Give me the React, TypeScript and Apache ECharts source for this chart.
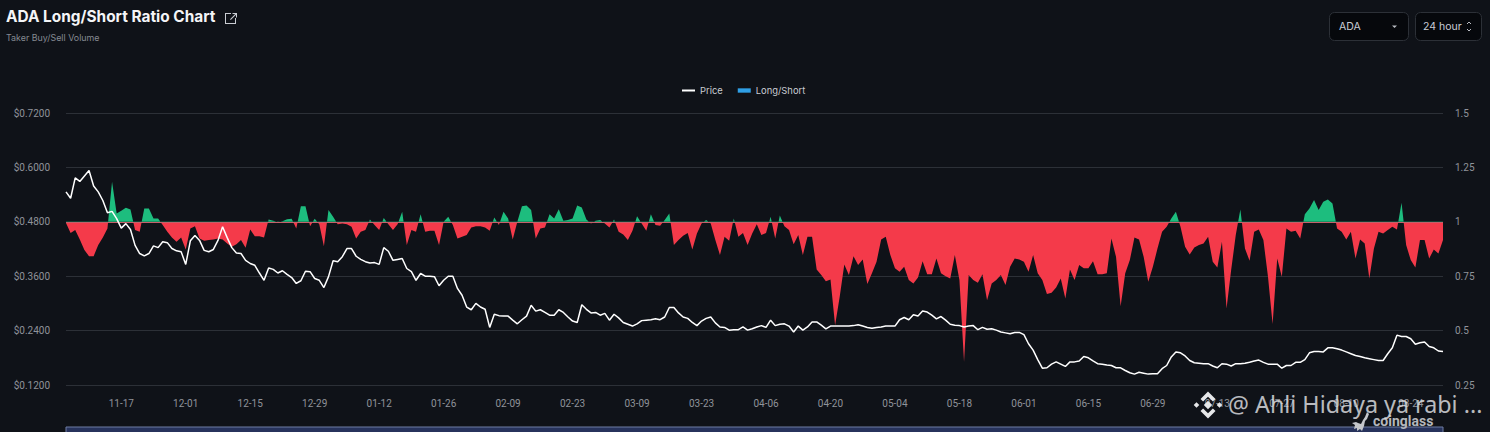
import React, { useEffect, useRef } from "react";
import * as echarts from "echarts";

const tickLabels = ["11-17","12-01","12-15","12-29","01-12","01-26","02-09","02-23","03-09","03-23","04-06","04-20","05-04","05-18","06-01","06-15","06-29","07-13","07-27","08-10","08-24"];
const priceTicks = [0.12,0.24,0.36,0.48,0.6,0.72];

const price = [
.546,.532,.577,.569,.581,.593,.559,.546,.527,.500,.503,.487,.466,.476,.463,.428,.410,.405,.410,.427,
.423,.436,.434,.421,.416,.414,.386,.438,.450,.439,.417,.414,.419,.439,.469,.445,.423,.411,.410,.395,
.388,.384,.367,.351,.378,.375,.367,.372,.364,.357,.344,.350,.371,.370,.355,.351,.335,.359,.394,.392,
.403,.421,.421,.404,.397,.392,.389,.390,.386,.423,.415,.395,.397,.399,.377,.370,.351,.366,.360,.360,
.359,.339,.351,.360,.360,.333,.318,.292,.286,.300,.292,.287,.247,.276,.273,.272,.272,.263,.255,.264,
.272,.296,.283,.286,.280,.274,.274,.286,.280,.270,.261,.258,.297,.287,.279,.280,.274,.278,.263,.276,
.268,.258,.254,.250,.255,.262,.263,.264,.266,.264,.270,.291,.291,.279,.270,.267,.258,.251,.261,.267,
.270,.257,.248,.247,.241,.242,.242,.248,.241,.244,.248,.251,.247,.263,.251,.254,.255,.250,.237,.250,
.241,.248,.259,.259,.252,.244,.250,.250,.250,.250,.250,.251,.253,.250,.247,.245,.247,.248,.250,.250,
.250,.264,.269,.264,.275,.272,.283,.281,.274,.266,.271,.263,.254,.252,.251,.248,.250,.251,.242,.247,
.243,.244,.241,.237,.235,.233,.236,.236,.231,.211,.197,.176,.157,.158,.166,.171,.166,.161,.171,.171,
.173,.183,.180,.173,.167,.166,.164,.163,.158,.158,.152,.147,.144,.148,.146,.144,.145,.145,.156,.163,
.182,.193,.191,.184,.174,.169,.168,.167,.167,.162,.158,.167,.166,.162,.167,.167,.168,.170,.173,.175,
.170,.166,.166,.166,.157,.163,.163,.170,.170,.176,.191,.194,.194,.193,.202,.202,.200,.197,.193,.189,
.185,.183,.180,.178,.176,.174,.174,.189,.202,.230,.227,.227,.222,.210,.213,.215,.205,.202,.195,.194];

const longShort = [
.995,.949,.962,.919,.870,.842,.842,.893,.928,.969,1.184,1.038,1.051,1.064,1.057,.962,.954,1.061,1.061,1.015,
1.015,.985,.954,.928,.908,.928,.873,.969,.980,.923,.913,.916,.919,.923,.919,.900,.885,.897,.916,.881,
.965,.934,.934,.928,1.011,1.005,.998,1.002,1.012,1.014,.969,1.072,1.072,.980,1.014,.989,.888,1.054,1.023,.989,
.992,.989,.977,.923,.954,.962,1.011,.985,.962,1.018,.989,.962,.989,1.046,.893,.962,.954,1.035,.954,.959,
.959,.893,1.0,1.023,.985,.923,.931,.939,.974,.980,.980,.974,.959,1.02,.985,1.046,1.015,.919,1.0,1.072,
1.075,1.054,.923,.969,.974,1.035,1.015,1.058,1.005,1.008,1.015,1.075,1.066,1.011,.992,1.005,1.008,.992,.974,1.011,
.954,.942,.916,.959,1.026,.992,.959,1.035,.985,.982,1.008,1.038,.893,.916,.936,.949,.873,.946,.992,1.008,
.992,.916,.847,.931,.913,1.015,.931,.949,.893,.946,.989,.939,.949,1.023,.923,1.029,.980,.962,.897,.939,
.847,.931,.931,.781,.755,.727,.735,.525,.655,.804,.755,.842,.801,.827,.714,.763,.816,.919,.931,.847,
.786,.770,.793,.732,.717,.744,.819,.759,.759,.831,.763,.750,.740,.847,.732,.357,.755,.732,.720,.759,
.640,.717,.732,.755,.709,.793,.831,.827,.816,.770,.847,.763,.732,.668,.674,.698,.740,.648,.781,.732,
.801,.786,.786,.819,.759,.759,.763,.923,.839,.612,.763,.824,.928,.919,.839,.724,.793,.877,.954,.977,
1.015,1.046,.977,.885,.850,.882,.893,.900,.931,.816,.790,.908,.602,.778,.939,1.057,.877,.821,.954,.965,
.916,.747,.530,.831,.747,.969,.954,.959,.923,1.035,1.061,1.100,1.054,1.092,1.103,1.084,.969,.954,.919,.954,
.831,.919,.900,.740,.877,.954,.946,.962,.977,.965,1.087,.893,.824,.790,.916,.916,.831,.873,.854,.916];

const categories: string[] = [];
for (let i = 0; i < 300; i++) {
  const d = new Date(Date.UTC(2024, 10, 5 + i));
  categories.push(String(d.getUTCMonth() + 1).padStart(2, "0") + "-" + String(d.getUTCDate()).padStart(2, "0"));
}

echarts.graphic.registerShape("bnbLogo", echarts.graphic.extendPath(
  "M0 -4.2L4.2 0L0 4.2L-4.2 0ZM-11.5 -2.8L-8.7 0L-11.5 2.8L-14.3 0ZM11.5 -2.8L14.3 0L11.5 2.8L8.7 0ZM0 -13.5L7.5 -6L4.9 -3.4L0 -8.3L-4.9 -3.4L-7.5 -6ZM0 13.5L-7.5 6L-4.9 3.4L0 8.3L4.9 3.4L7.5 6Z", {}));
echarts.graphic.registerShape("extLink", echarts.graphic.extendPath(
  "M6 1H0V12H11V6H10V11H1V2H6ZM5 7.2L5.8 8L11 2.8V5.5H12V1H7.5V2H10.2Z", {}));
echarts.graphic.registerShape("birdLogo", echarts.graphic.extendPath(
  "M15 0L13 5L11 8L9 12L6 11L4 10L0 11L3 13L2 17L5 16L5 19L8 17L10 19L12 14L13 9L15 7L17 2Z", {}));

const uiFont = "Inter, Roboto, sans-serif";
const GREEN = "#1dbd7e";
const RED = "#f43a4a";
// The ratio of 1 sits 0.4 of the way down the 1.5..0.25 axis.
const splitAt = (1.5 - 1) / (1.5 - 0.25);
const splitFill = {
  type: "linear", x: 0, y: 113, x2: 0, y2: 385, global: true,
  colorStops: [
    { offset: 0, color: GREEN }, { offset: splitAt, color: GREEN },
    { offset: splitAt, color: RED }, { offset: 1, color: RED },
  ],
};

export default function App() {
  const ref = useRef<HTMLDivElement>(null);
  useEffect(() => {
    document.body.style.margin = "0";
    document.body.style.background = "#0f1218";
    const chart = echarts.init(ref.current!, undefined, { renderer: "svg" });
    chart.setOption({
      animation: false,
      backgroundColor: "#0f1218",
      grid: { left: 66, right: 47, top: 113, bottom: 47 },
      legend: {
        left: 677, top: 81, itemWidth: 13, itemHeight: 8, itemGap: 15,
        textStyle: { color: "#c9ccd2", fontSize: 9.4, fontFamily: uiFont },
        data: [
          { name: "Price", icon: "path://M0 0h13v2H0z", itemStyle: { color: "#ffffff" } },
          { name: "Long/Short", icon: "path://M0 0h12v4H0z", itemStyle: { color: "#2f9fe6" } },
        ],
      },
      xAxis: {
        type: "category", data: categories, boundaryGap: false,
        axisLine: { show: false }, axisTick: { show: false },
        axisLabel: {
          color: "#8f939a", fontSize: 10, fontFamily: "Roboto, sans-serif", margin: 13,
          interval: (i: number, v: string) => tickLabels.includes(v) && i >= 12 && (i - 12) % 14 === 0,
        },
        splitLine: { show: false },
      },
      yAxis: [
        {
          type: "value", min: priceTicks[0], max: priceTicks[5], interval: 0.12,
          axisLine: { show: false }, axisTick: { show: false },
          axisLabel: { color: "#8f939a", fontSize: 10, fontFamily: "Roboto, sans-serif", margin: 16, formatter: (v: number) => "$" + v.toFixed(4) },
          splitLine: { show: true, lineStyle: { color: "#2c3037", width: 1 } },
        },
        {
          type: "value", min: 0.25, max: 1.5, interval: 0.25, position: "right",
          axisLine: { show: false }, axisTick: { show: false },
          axisLabel: { color: "#8f939a", fontSize: 10, fontFamily: "Roboto, sans-serif", margin: 12 },
          splitLine: { show: false },
        },
      ],
      series: [
        {
          name: "Price", type: "line", yAxisIndex: 0, data: price, showSymbol: false, symbol: "none", z: 5,
          lineStyle: { color: "#ffffff", width: 1.5 }, itemStyle: { color: "#ffffff" },
        },
        {
          name: "Long/Short", type: "line", yAxisIndex: 1, data: longShort, showSymbol: false, symbol: "none", z: 3,
          lineStyle: { width: 0 }, itemStyle: { color: "#2f9fe6" },
          areaStyle: { origin: 1, opacity: 1, color: splitFill },
          markLine: {
            silent: true, symbol: "none", label: { show: false },
            lineStyle: { color: "#c4606a", width: 1, type: "solid" },
            data: [{ yAxis: 1 }],
          },
        },
      ],
      graphic: [
        { type: "text", x: 6, y: 9, style: { text: "ADA Long/Short Ratio Chart", fill: "#f4f5f7", font: "700 15.4px " + uiFont } },
        { type: "extLink", x: 225, y: 12, style: { fill: "#c9ccd2" } },
        { type: "text", x: 6, y: 33, style: { text: "Taker Buy/Sell Volume", fill: "#858a92", font: "400 8.9px " + uiFont } },

        { type: "rect", shape: { x: 1329.5, y: 12.5, width: 79, height: 28, r: 5 }, style: { fill: "#06080c", stroke: "#2c3037" } },
        { type: "text", x: 1339, y: 21, style: { text: "ADA", fill: "#c9ccd6", font: "400 10.5px " + uiFont } },
        { type: "polygon", shape: { points: [[1392, 25.5], [1397, 25.5], [1394.5, 28]] }, style: { fill: "#b8bbc2" } },
        { type: "rect", shape: { x: 1415.5, y: 12.5, width: 66, height: 28, r: 5 }, style: { fill: "#06080c", stroke: "#2c3037" } },
        { type: "text", x: 1423, y: 21, style: { text: "24 hour", fill: "#c9ccd6", font: "400 10.5px " + uiFont } },
        { type: "polyline", shape: { points: [[1467, 24], [1469, 22], [1471, 24]] }, style: { stroke: "#b8bbc2", fill: "none", lineWidth: 1 } },
        { type: "polyline", shape: { points: [[1467, 29], [1469, 31], [1471, 29]] }, style: { stroke: "#b8bbc2", fill: "none", lineWidth: 1 } },

        { type: "rect", shape: { x: 66, y: 427, width: 1377, height: 8 }, style: { fill: "#27335c", stroke: "#6f7ca3", lineWidth: 1 } },

        { type: "birdLogo", x: 1352, y: 412, style: { fill: "#c4c6ca" }, z: 20 },
        { type: "text", x: 1373, y: 414, z: 20, style: { text: "coinglass", fill: "#b4b7bc", font: "700 14px Roboto, sans-serif" } },
        { type: "bnbLogo", x: 1208, y: 405, style: { fill: "#e6e7e9" }, z: 21 },
        { type: "text", x: 1228, y: 392, z: 21, style: { text: "@ Ahli Hidaya ya rabi ...", fill: "rgba(225,226,230,0.82)", font: "400 23.3px 'Noto Sans', sans-serif" } },
      ],
    });
    return () => chart.dispose();
  }, []);
  return <div ref={ref} style={{ width: 1490, height: 432 }} />;
}
